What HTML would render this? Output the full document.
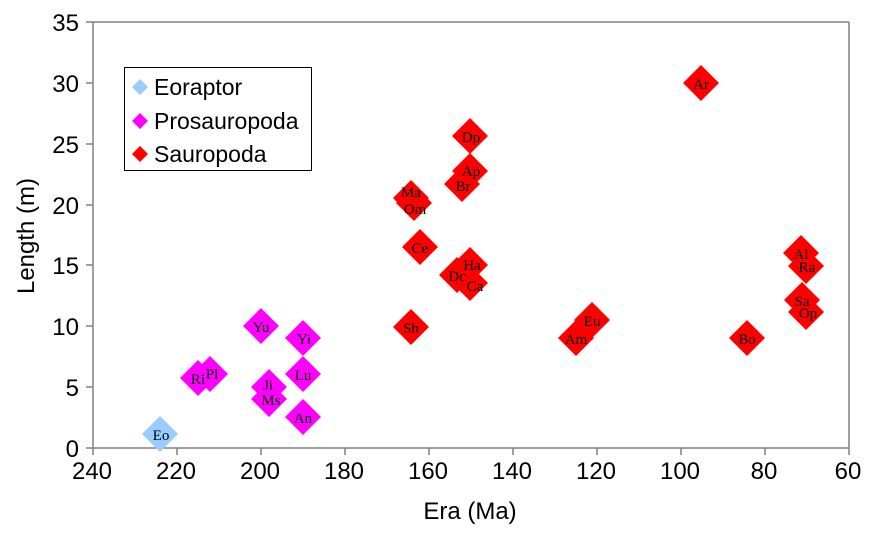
<!DOCTYPE html><html><head><style>body{margin:0;background:#fff}svg{display:block}</style></head><body>
<svg width="875" height="535" xmlns="http://www.w3.org/2000/svg" font-family="Liberation Sans, sans-serif">
<rect width="875" height="535" fill="#fff"/>
<g stroke="#808080" stroke-width="1.5">
<line x1="93" y1="22" x2="93" y2="448"/>
<line x1="93" y1="22" x2="849" y2="22"/>
<line x1="93" y1="448" x2="849" y2="448"/>
<line x1="849" y1="22" x2="849" y2="448"/>
<line x1="86" y1="22" x2="93" y2="22"/><line x1="86" y1="83" x2="93" y2="83"/><line x1="86" y1="144" x2="93" y2="144"/><line x1="86" y1="205" x2="93" y2="205"/><line x1="86" y1="265" x2="93" y2="265"/><line x1="86" y1="326" x2="93" y2="326"/><line x1="86" y1="387" x2="93" y2="387"/><line x1="86" y1="448" x2="93" y2="448"/>
<line x1="93" y1="448" x2="93" y2="455"/><line x1="177" y1="448" x2="177" y2="455"/><line x1="261" y1="448" x2="261" y2="455"/><line x1="345" y1="448" x2="345" y2="455"/><line x1="429" y1="448" x2="429" y2="455"/><line x1="513" y1="448" x2="513" y2="455"/><line x1="597" y1="448" x2="597" y2="455"/><line x1="681" y1="448" x2="681" y2="455"/><line x1="765" y1="448" x2="765" y2="455"/><line x1="849" y1="448" x2="849" y2="455"/>
</g>
<g font-size="24" fill="#000" text-anchor="end">
<text x="79" y="31">35</text><text x="79" y="92">30</text><text x="79" y="153">25</text><text x="79" y="214">20</text><text x="79" y="274">15</text><text x="79" y="335">10</text><text x="79" y="396">5</text><text x="79" y="457">0</text>
</g>
<g font-size="24" fill="#000" text-anchor="middle">
<text x="92" y="479">240</text><text x="176" y="479">220</text><text x="260" y="479">200</text><text x="344" y="479">180</text><text x="428" y="479">160</text><text x="512" y="479">140</text><text x="596" y="479">120</text><text x="680" y="479">100</text><text x="764" y="479">80</text><text x="848" y="479">60</text>
<text x="470" y="519">Era (Ma)</text>
<text transform="translate(34,236) rotate(-90)">Length (m)</text>
</g>
<g font-family="Liberation Serif, serif" font-size="15" text-anchor="middle">
<path d="M160 416l18 18-18 18-18-18z" fill="#99ccff"/><text x="161" y="440">Eo</text>
<g fill="#ff00ff">
<path d="M198 360l18 18-18 18-18-18z"/><path d="M210 356l18 18-18 18-18-18z"/>
<path d="M261 308l18 18-18 18-18-18z"/><path d="M303 320l18 18-18 18-18-18z"/>
<path d="M303 356l18 18-18 18-18-18z"/><path d="M269 369l18 18-18 18-18-18z"/>
<path d="M269 381l18 18-18 18-18-18z"/><path d="M303 399l18 18-18 18-18-18z"/>
</g>
<g fill="#ff0000">
<path d="M411 180l18 18-18 18-18-18z"/><path d="M414 185l18 18-18 18-18-18z"/>
<path d="M420 229l18 18-18 18-18-18z"/><path d="M470 247l18 18-18 18-18-18z"/>
<path d="M457 257l18 18-18 18-18-18z"/><path d="M470 265l18 18-18 18-18-18z"/>
<path d="M411 309l18 18-18 18-18-18z"/><path d="M470 153l18 18-18 18-18-18z"/>
<path d="M462 166l18 18-18 18-18-18z"/><path d="M470 118l18 18-18 18-18-18z"/>
<path d="M701 65l18 18-18 18-18-18z"/><path d="M576 320l18 18-18 18-18-18z"/>
<path d="M592 302l18 18-18 18-18-18z"/><path d="M747 320l18 18-18 18-18-18z"/>
<path d="M801 235l18 18-18 18-18-18z"/><path d="M806 248l18 18-18 18-18-18z"/>
<path d="M802 282l18 18-18 18-18-18z"/><path d="M806 294l18 18-18 18-18-18z"/>
</g>
<g fill="#000">
<text x="198" y="384">Ri</text><text x="212" y="379">Pl</text><text x="261" y="332">Yu</text><text x="304" y="344">Yi</text><text x="303" y="380">Lu</text><text x="268" y="390">Ji</text><text x="271" y="405">Ms</text><text x="303" y="423">An</text>
<text x="411" y="197">Ma</text><text x="415" y="214">Om</text><text x="420" y="253">Ce</text><text x="472" y="270">Ha</text><text x="457" y="281">Dc</text><text x="475" y="291">Ca</text><text x="411" y="333">Sh</text><text x="471" y="176">Ap</text><text x="463" y="191">Br</text><text x="471" y="142">Dp</text><text x="701" y="89">Ar</text><text x="576" y="344">Am</text><text x="592" y="326">Eu</text><text x="747" y="344">Bo</text><text x="801" y="259">Al</text><text x="807" y="272">Ra</text><text x="802" y="306">Sa</text><text x="808" y="318">Op</text>
</g>
</g>
<rect x="124.5" y="67.5" width="187" height="103" fill="#fff" stroke="#000"/>
<path d="M140 79l8 8-8 8-8-8z" fill="#99ccff"/><path d="M140 113l8 8-8 8-8-8z" fill="#ff00ff"/><path d="M140 146l8 8-8 8-8-8z" fill="#ff0000"/>
<g font-size="23" fill="#000"><text x="154" y="95">Eoraptor</text><text x="154" y="129">Prosauropoda</text><text x="154" y="162">Sauropoda</text></g>
</svg></body></html>
